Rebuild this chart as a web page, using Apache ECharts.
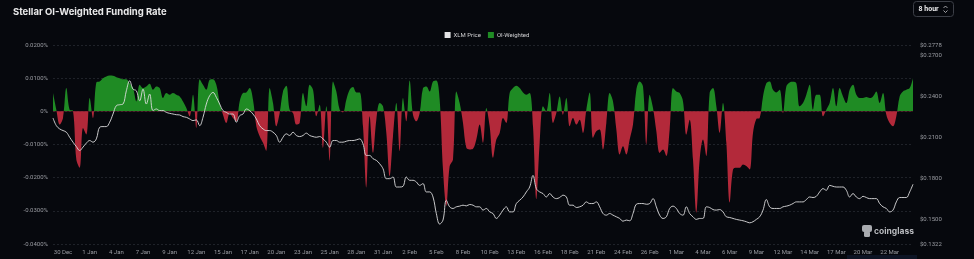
<!DOCTYPE html>
<html>
<head>
<meta charset="utf-8">
<script src="https://cdn.jsdelivr.net/npm/echarts@6/dist/echarts.min.js"></script>
<style>
  html, body { margin: 0; padding: 0; background: #06080d; }
  #chart { width: 974px; height: 259px; }
</style>
</head>
<body>
<div id="chart"></div>
<script>
// 8-hour funding intervals, first point 29 Dec 00:00 (UTC)
const startTime = Date.UTC(2024, 11, 29, 0, 0)
const stepHours = 8

// OI-weighted funding rate, in %
const fundingRate = [
  0.0055, 0.0005, -0.004, -0.002, 0.007, 0.0005, 0.0002, -0.0145, -0.017, -0.005,
  -0.007, 0.004, -0.002, 0.0087, 0.009, 0.010, 0.0105, 0.0108, 0.0107, 0.0103,
  0.010, 0.0097, 0.0097, 0.0085, 0.007, 0.003, 0.008, 0.007, 0.0075, 0.0083,
  0.0065, 0.0075, 0.007, 0.004, 0.0055, 0.005, 0.0055, 0.005, 0.0045, 0.003,
  0.001, -0.0015, 0.005, -0.005, 0.0097, 0.008, 0.0065, 0.0095, 0.0097, 0.008,
  0.0025, -0.001, -0.0035, -0.0005, -0.002, -0.003, 0.003, 0.0055, 0.0057, 0.007,
  0.0035, -0.0045, -0.0075, -0.0095, -0.012, 0.007, 0.0025, -0.0045, -0.0005, 0.006,
  0.0077, 0.0005, -0.0005, -0.004, -0.0035, 0.0055, 0.0015, 0.008, 0.0065, -0.0015,
  0.002, -0.011, 0.0015, -0.015, 0.009, 0.006, 0.0005, -0.0003, 0.0035, 0.0065,
  0.0073, 0.0057, 0.0057, -0.0045, -0.023, -0.0015, -0.0125, -0.0025, 0.0025, 0.0015,
  -0.0065, -0.0195, -0.0075, 0.0025, -0.012, 0.004, -0.003, 0.0093, -0.001, -0.003,
  -0.0005, 0.007, 0.0075, 0.006, 0.009, 0.0093, 0.0035, -0.0175, -0.0285, -0.0165,
  -0.0145, 0.006, 0.0025, -0.0035, -0.011, -0.0115, -0.0113, -0.0085, -0.004, -0.0095,
  0.001, -0.0045, -0.014, -0.0085, -0.0065, -0.002, -0.0035, 0.0055, 0.007, 0.0077,
  0.007, 0.0057, 0.005, 0.0055, -0.0045, -0.0265, -0.0095, 0.0015, 0, 0.0055,
  -0.0035, -0.0005, 0.0045, -0.001, 0.004, -0.0045, -0.002, -0.004, -0.0025, -0.0065,
  0.0005, 0.0057, -0.008, -0.006, -0.0055, -0.0115, -0.0035, 0.0055, 0.003, -0.0055,
  -0.013, -0.0105, -0.013, -0.0085, -0.004, 0.0065, 0.009, 0.0075, -0.010, 0.005,
  0.001, -0.006, -0.0125, -0.0115, -0.0135, -0.0055, 0.007, 0.006, 0.0055, 0.003,
  -0.007, -0.0025, -0.0145, -0.0305, -0.0145, -0.0085, -0.0135, 0.0055, 0.007, 0.0015,
  -0.0065, 0.0025, -0.0095, -0.0275, -0.0175, -0.017, -0.017, -0.016, -0.0165, -0.0175,
  -0.0065, -0.0023, -0.002, 0.0045, 0.0085, 0.009, 0.0065, 0.0057, 0.0065, -0.0005,
  0.0075, 0.0087, 0.0089, 0.0085, 0.0015, 0.0025, 0.005, 0.008, 0.0005, 0.005,
  0.005, -0.0015, 0.0005, 0.0025, 0.007, 0.0015, 0.007, 0.0045, 0.0025, 0.0065,
  0.008, 0.005, 0.004, 0.004, 0.0043, 0.004, 0.0045, 0.006, 0.0025, 0.0055,
  -0.001, -0.0035, -0.0045, -0.0015, 0.0045, 0.006, 0.0065, 0.007, 0.010
]

// XLM price, USD
const xlmPrice = [
  0.2244, 0.2188, 0.2164, 0.2152, 0.2140, 0.2103, 0.2067, 0.2035, 0.2006, 0.2031,
  0.2060, 0.2079, 0.2067, 0.2091, 0.2176, 0.2181, 0.2181, 0.2213, 0.2273, 0.2334,
  0.2341, 0.2346, 0.2443, 0.2516, 0.2455, 0.2443, 0.2370, 0.2455, 0.2346, 0.2419,
  0.2298, 0.2310, 0.2298, 0.2298, 0.2285, 0.2278, 0.2273, 0.2268, 0.2266, 0.2254,
  0.2249, 0.2237, 0.2225, 0.2230, 0.2188, 0.2249, 0.2346, 0.2407, 0.2431, 0.2395,
  0.2346, 0.2298, 0.2285, 0.2273, 0.2273, 0.2213, 0.2261, 0.2273, 0.2310, 0.2298,
  0.2273, 0.2237, 0.2188, 0.2164, 0.2152, 0.2152, 0.2140, 0.2116, 0.2067, 0.2103,
  0.2128, 0.2116, 0.2140, 0.2116, 0.2108, 0.2116, 0.2133, 0.2116, 0.2108, 0.2103,
  0.2108, 0.2091, 0.2067, 0.2031, 0.2079, 0.2079, 0.2067, 0.2067, 0.2074, 0.2079,
  0.2079, 0.2084, 0.2091, 0.2055, 0.1970, 0.1970, 0.1946, 0.1934, 0.1909, 0.1873,
  0.1800, 0.1800, 0.1812, 0.1739, 0.1739, 0.1744, 0.1812, 0.1788, 0.1788, 0.1776,
  0.1751, 0.1764, 0.1703, 0.1703, 0.1666, 0.1545, 0.1468, 0.1497, 0.1642, 0.1594,
  0.1582, 0.1594, 0.1599, 0.1606, 0.1601, 0.1611, 0.1606, 0.1594, 0.1594, 0.1570,
  0.1582, 0.1557, 0.1545, 0.1509, 0.1533, 0.1570, 0.1594, 0.1557, 0.1557, 0.1618,
  0.1642, 0.1666, 0.1703, 0.1739, 0.1824, 0.1727, 0.1703, 0.1691, 0.1666, 0.1691,
  0.1666, 0.1654, 0.1662, 0.1679, 0.1666, 0.1606, 0.1606, 0.1589, 0.1594, 0.1606,
  0.1630, 0.1618, 0.1618, 0.1630, 0.1594, 0.1545, 0.1533, 0.1545, 0.1533, 0.1521,
  0.1509, 0.1489, 0.1497, 0.1492, 0.1545, 0.1613, 0.1618, 0.1618, 0.1613, 0.1618,
  0.1654, 0.1594, 0.1533, 0.1509, 0.1521, 0.1582, 0.1599, 0.1582, 0.1545, 0.1533,
  0.1594, 0.1545, 0.1521, 0.1502, 0.1509, 0.1509, 0.1594, 0.1589, 0.1574, 0.1570,
  0.1574, 0.1557, 0.1521, 0.1516, 0.1509, 0.1502, 0.1497, 0.1492, 0.1485, 0.1477,
  0.1485, 0.1502, 0.1521, 0.1570, 0.1647, 0.1594, 0.1582, 0.1582, 0.1582, 0.1594,
  0.1599, 0.1606, 0.1618, 0.1630, 0.1630, 0.1630, 0.1647, 0.1666, 0.1662, 0.1671,
  0.1703, 0.1727, 0.1715, 0.1751, 0.1744, 0.1739, 0.1739, 0.1739, 0.1715, 0.1666,
  0.1691, 0.1666, 0.1654, 0.1671, 0.1662, 0.1654, 0.1654, 0.1654, 0.1618, 0.1594,
  0.1582, 0.1557, 0.1570, 0.1630, 0.1662, 0.1662, 0.1662, 0.1703, 0.1759
]

const MONTHS = ['Jan', 'Feb', 'Mar', 'Apr', 'May', 'Jun', 'Jul', 'Aug', 'Sep', 'Oct', 'Nov', 'Dec']
const categories = fundingRate.map((_, i) => {
  const d = new Date(startTime + i * stepHours * 3600 * 1000)
  return d.getUTCDate() + ' ' + MONTHS[d.getUTCMonth()]
})

const GREEN = '#1f8b24'
const RED = '#b3293a'
const RATE_MIN = -0.04
const RATE_MAX = 0.02
const labelFont = 'Roboto, "Noto Sans", sans-serif'

const chart = echarts.init(document.getElementById('chart'))
chart.setOption({
  backgroundColor: '#06080d',
  animation: false,
  title: {
    text: 'Stellar OI-Weighted Funding Rate',
    left: 8,
    top: 2,
    textStyle: { color: '#e9e9ea', fontSize: 9.5, fontWeight: 'bold', fontFamily: 'Inter, Roboto, sans-serif' }
  },
  legend: {
    data: ['XLM Price', 'OI-Weighted'],
    top: 27,
    left: 'center',
    icon: 'rect',
    itemWidth: 6,
    itemHeight: 6,
    itemGap: 7,
    textStyle: { color: '#d2d2d4', fontSize: 6, fontFamily: labelFont, padding: [0, 0, 0, -2] }
  },
  grid: { left: 53, right: 61, top: 45, bottom: 15 },
  xAxis: {
    type: 'category',
    data: categories,
    boundaryGap: false,
    axisLine: { show: false },
    axisTick: { show: false },
    axisLabel: {
      interval: (idx) => idx % 8 === 3,
      color: '#9a9ca2',
      fontSize: 6,
      fontFamily: labelFont,
      margin: 5
    }
  },
  yAxis: [
    {
      type: 'value',
      min: RATE_MIN,
      max: RATE_MAX,
      interval: 0.01,
      axisLine: { show: false },
      axisTick: { show: false },
      splitLine: { lineStyle: { color: '#262a31', type: [2, 2], width: 0.8 } },
      axisLabel: {
        color: '#9a9ca2',
        fontSize: 6,
        fontFamily: labelFont,
        margin: 5,
        formatter: (v) => Math.abs(v) < 1e-9 ? '0%' : v.toFixed(4) + '%'
      }
    },
    {
      type: 'value',
      min: 0.1322,
      max: 0.2778,
      splitNumber: 5,
      axisLine: { show: false },
      axisTick: { show: false },
      splitLine: { show: false },
      axisLabel: {
        color: '#9a9ca2',
        fontSize: 6,
        fontFamily: labelFont,
        margin: 7,
        formatter: (v) => '$' + v.toFixed(4)
      }
    }
  ],
  series: [
    {
      name: 'OI-Weighted',
      type: 'line',
      yAxisIndex: 0,
      data: fundingRate,
      smooth: 0.35,
      showSymbol: false,
      itemStyle: { color: GREEN },
      lineStyle: { width: 1, opacity: 0 },
      areaStyle: { opacity: 1, color: GREEN },
      z: 2
    },
    {
      name: 'XLM Price',
      type: 'line',
      yAxisIndex: 1,
      data: xlmPrice,
      smooth: 0.4,
      showSymbol: false,
      itemStyle: { color: '#e4e4e6' },
      lineStyle: { width: 0.9, color: '#dcdcde' },
      z: 3
    }
  ],
  graphic: [
    {
      type: 'group',
      left: 913,
      top: 1,
      children: [
        { type: 'rect', shape: { x: 0, y: 0, width: 40, height: 15, r: 3 }, style: { fill: '#06080d', stroke: '#3c3f47', lineWidth: 1 } },
        { type: 'text', x: 5, y: 7.5, style: { text: '8 hour', fill: '#e6e6e8', font: 'bold 7px Roboto, sans-serif', verticalAlign: 'middle' } },
        { type: 'polyline', shape: { points: [[30, 6.5], [32, 4.5], [34, 6.5]] }, style: { stroke: '#c8c8cc', lineWidth: 0.8, fill: null } },
        { type: 'polyline', shape: { points: [[30, 9], [32, 11], [34, 9]] }, style: { stroke: '#c8c8cc', lineWidth: 0.8, fill: null } }
      ]
    },
    {
      type: 'group',
      left: 862,
      top: 225,
      children: [
        { type: 'rect', shape: { x: 1, y: 0, width: 10, height: 7, r: 2 }, style: { fill: '#a9abb0' } },
        { type: 'rect', shape: { x: 3, y: 6, width: 6, height: 6, r: 1.5 }, style: { fill: '#a9abb0' } },
        { type: 'text', x: 13, y: 6, style: { text: 'coinglass', fill: '#b8babe', font: 'bold 8.5px Inter, Roboto, sans-serif', verticalAlign: 'middle' } }
      ]
    },
    { type: 'rect', left: 847, top: 255, shape: { width: 70, height: 4 }, style: { fill: '#0d1424' } }
  ]
})

// green above 0, red below: split the area fill at the zero line of the rate axis
const yTop = chart.convertToPixel({ yAxisIndex: 0 }, RATE_MAX)
const yZero = chart.convertToPixel({ yAxisIndex: 0 }, 0)
const yBottom = chart.convertToPixel({ yAxisIndex: 0 }, RATE_MIN)
const split = (yZero - yTop) / (yBottom - yTop)
chart.setOption({
  series: [{
    name: 'OI-Weighted',
    areaStyle: {
      color: {
        type: 'linear', x: 0, y: yTop, x2: 0, y2: yBottom, global: true,
        colorStops: [
          { offset: 0, color: GREEN },
          { offset: split, color: GREEN },
          { offset: split, color: RED },
          { offset: 1, color: RED }
        ]
      }
    }
  }]
})
</script>
</body>
</html>
